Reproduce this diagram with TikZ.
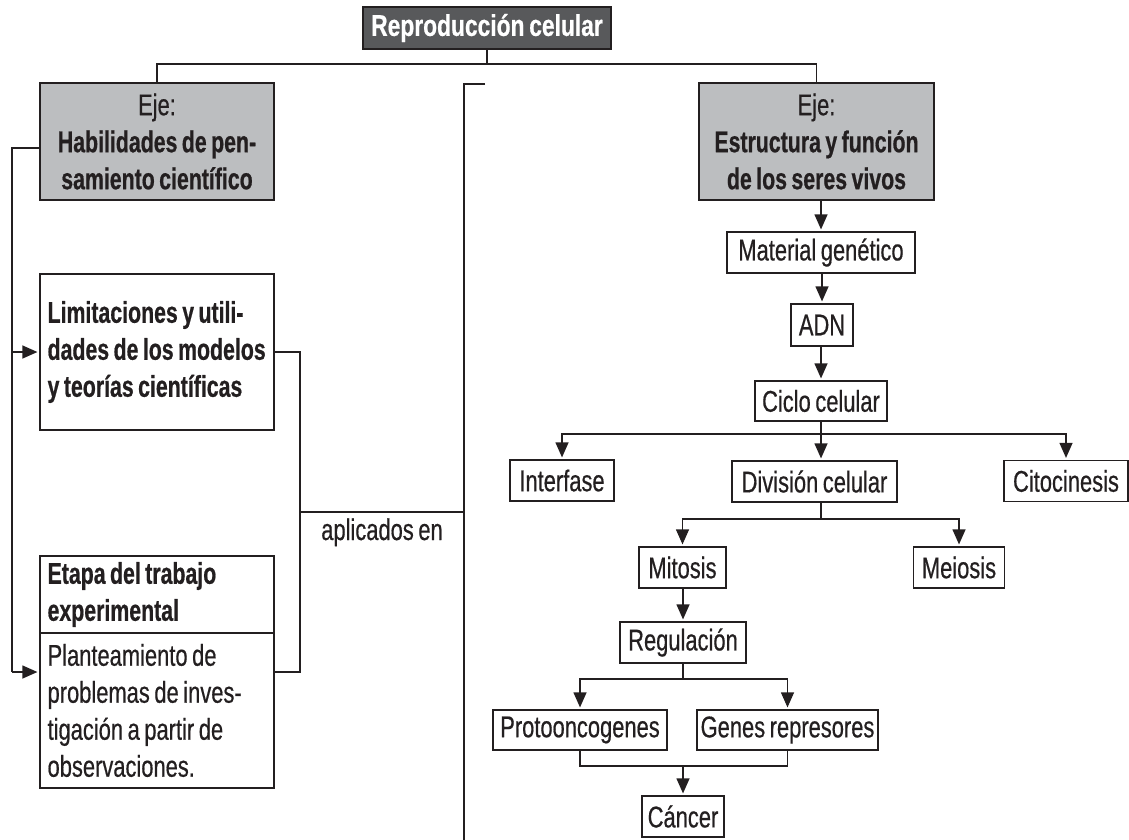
\documentclass[tikz,border=0pt]{standalone}
\usepackage{fontspec}
\setmainfont{Liberation Sans}[FakeStretch=0.73,WordSpace=0.75,FakeBold=0.5,
  BoldFeatures={FakeStretch=0.71,FakeBold=0.6}]
\newfontfamily\headfont{Liberation Sans}[FakeStretch=0.76,WordSpace=0.75,FakeBold=0.6,UprightFont=*-Bold]
\usetikzlibrary{arrows.meta}
\definecolor{ink}{HTML}{231F20}
\definecolor{titlegray}{HTML}{58595B}
\definecolor{axisgray}{HTML}{BCBEC0}
\newcommand{\mapfont}{\fontsize{30}{37}\selectfont}
\tikzset{
  conn/.style={draw=ink, line width=1.2pt},
  arr/.style={conn, -{Triangle[length=15pt,width=13pt]}, shorten >=2pt},
  box/.style={draw=ink, line width=1.2pt, fill=white, text=ink, inner sep=0pt,
              font=\mapfont, align=center},
  axisbox/.style={box, fill=axisgray},
  titlebox/.style={box, fill=titlegray, text=white, font=\headfont\fontsize{30}{37}\selectfont},
  frame/.style={box, minimum width=234pt},
  lefttext/.style={text=ink, font=\mapfont, inner sep=0pt, align=left, anchor=west}
}
\begin{document}
\begin{tikzpicture}[x=1pt,y=-1pt]
\useasboundingbox (0,0) rectangle (1129,840);

% heading and the two axes
\node[titlebox, minimum width=248pt, minimum height=42pt] (title) at (487,28) {Reproducción celular};
\node[axisbox, minimum width=234pt, minimum height=117pt] (ejeL) at (157,141.5)
  {Eje:\\ \textbf{Habilidades de pen-}\\ \textbf{samiento científico}};
\node[axisbox, minimum width=235pt, minimum height=117pt] (ejeR) at (816.5,141.5)
  {Eje:\\ \textbf{Estructura y función}\\ \textbf{de los seres vivos}};

% left column: frames, then their left-aligned texts
\node[frame, minimum height=156pt] (lim) at (157,352) {};
\node[lefttext] (limtxt) at ([xshift=8pt]lim.west)
  {\textbf{Limitaciones y utili-}\\ \textbf{dades de los modelos}\\ \textbf{y teorías científicas}};
\node[frame, minimum height=77pt] (etapaT) at (157,594.5) {};
\node[lefttext] (etapaTtxt) at ([xshift=8pt]etapaT.west)
  {\textbf{Etapa del trabajo}\\ \textbf{experimental}};
\node[frame, minimum height=155pt] (etapaB) at (157,710.5) {};
\node[lefttext] (etapaBtxt) at ([xshift=8pt]etapaB.west)
  {Planteamiento de\\ problemas de inves-\\ tigación a partir de\\ observaciones.};
\node[text=ink, font=\mapfont, inner sep=0pt, anchor=base] (apl) at (382,540) {aplicados en};

% right column
\node[box, minimum width=188pt, minimum height=41pt] (mat) at (821,252.5) {Material genético};
\node[box, minimum width=62pt, minimum height=42pt] (adn) at (822,325) {ADN};
\node[box, minimum width=132pt, minimum height=40pt] (ciclo) at (821,401) {Ciclo celular};
\node[box, minimum width=104pt, minimum height=41pt] (inter) at (562,480.5) {Interfase};
\node[box, minimum width=165pt, minimum height=41pt] (div) at (814.5,481.5) {División celular};
\node[box, minimum width=124pt, minimum height=41pt] (cito) at (1066,481) {Citocinesis};
\node[box, minimum width=87pt, minimum height=41pt] (mit) at (682.5,567.5) {Mitosis};
\node[box, minimum width=91pt, minimum height=41pt] (mei) at (959,567.5) {Meiosis};
\node[box, minimum width=126pt, minimum height=41pt] (reg) at (683,642.5) {Regulación};
\node[box, minimum width=174pt, minimum height=40pt] (proto) at (580,730) {Protooncogenes};
\node[box, minimum width=181pt, minimum height=40pt] (genes) at (787.5,730) {Genes represores};
\node[box, minimum width=82pt, minimum height=41pt] (cancer) at (683,816.5) {Cáncer};

% junction points
\coordinate (top) at (487,64);
\coordinate (lt) at (12,148);
\coordinate (lb) at (12,672);
\coordinate (bx) at (300,512);
\coordinate (vtop) at (485,84);
\coordinate (vx) at (464,84);
\coordinate (vbot) at (464,840);
\coordinate (b1) at (821,434);
\coordinate (b2) at (821,519);
\coordinate (b3) at (683,679);
\coordinate (b4) at (683,766);

% heading to axes
\draw[conn] (title.south) -- (top);
\draw[conn] (ejeL.north) |- (top) -| (ejeR.north);

% left loop into the two boxes
\draw[conn] (ejeL.west |- lt) -- (lt) -- (lb);
\draw[arr] (lt |- lim.west) -- (lim.west);
\draw[arr] (lb) -- (etapaB.west |- lb);

% bracket joining both boxes, carried over to the long rule
\draw[conn] (lim.east) -| (bx) |- (etapaB.east |- lb);
\draw[conn] (bx) -- (vx |- bx);
\draw[conn] (vtop) -- (vx) -- (vbot);

% structure chain
\draw[arr] (mat.north |- ejeR.south) -- (mat.north);
\draw[arr] (adn.north |- mat.south) -- (adn.north);
\draw[arr] (ciclo.north |- adn.south) -- (ciclo.north);
\draw[conn] (ciclo.south -| b1) -- (b1);
\draw[arr] (b1) -| (inter.north);
\draw[arr] (b1) -| (cito.north);
\draw[arr] (b1) -- (div.north -| b1);
\draw[conn] (div.south -| b2) -- (b2);
\draw[arr] (b2) -| (mit.north);
\draw[arr] (b2) -| (mei.north);
\draw[arr] (mit.south -| reg.north) -- (reg.north);
\draw[conn] (reg.south) -- (b3);
\draw[arr] (b3) -| (proto.north);
\draw[arr] (b3) -| (genes.north);
\draw[conn] (proto.south) |- (b4) -| (genes.south);
\draw[arr] (b4) -- (cancer.north);
\end{tikzpicture}
\end{document}
